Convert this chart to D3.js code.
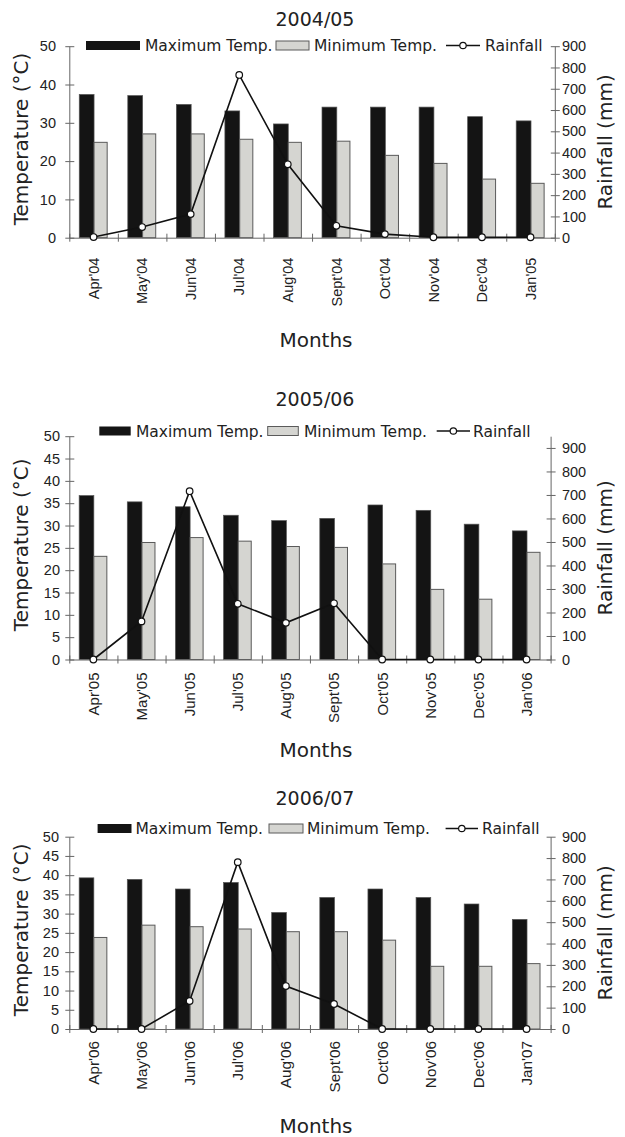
<!DOCTYPE html>
<html>
<head>
<meta charset="utf-8">
<script src="https://cdn.jsdelivr.net/npm/d3@7/dist/d3.min.js"></script>
<style>
  body{margin:0;background:#fff;}
  svg{display:block;font-family:"DejaVu Sans",Verdana,sans-serif;}
  .axis path,.axis line{stroke:#666;stroke-width:1;}
  .axis text{fill:#222;}
</style>
</head>
<body>
<div id="chart"></div>
<script>
// ---- data ----
const months0405=[`Apr'04`,`May'04`,`Jun'04`,`Jul'04`,`Aug'04`,`Sept'04`,`Oct'04`,`Nov'o4`,`Dec'04`,`Jan'05`];
const maxTemp0405=[37.4,37.1,34.8,33.1,29.7,34.1,34.1,34.1,31.6,30.5];
const minTemp0405=[24.9,27.1,27.1,25.7,24.9,25.2,21.5,19.4,15.3,14.2];
const rain0405=[3,50,111,765,345,56,17,2,2,2];

const months0506=[`Apr'05`,`May'05`,`Jun'05`,`Jul'05`,`Aug'05`,`Sept'05`,`Oct'05`,`Nov'o5`,`Dec'05`,`Jan'06`];
const maxTemp0506=[36.7,35.3,34.2,32.3,31.1,31.6,34.6,33.4,30.3,28.8];
const minTemp0506=[23.1,26.2,27.3,26.5,25.3,25.1,21.4,15.7,13.5,24.0];
const rain0506=[0,162,716,237,156,239,0,0,0,0];

const months0607=[`Apr'06`,`May'06`,`Jun'06`,`Jul'06`,`Aug'06`,`Sept'06`,`Oct'06`,`Nov'06`,`Dec'06`,`Jan'07`];
const maxTemp0607=[39.3,38.9,36.4,38.1,30.3,34.2,36.4,34.2,32.5,28.5];
const minTemp0607=[23.8,27.0,26.6,26.0,25.3,25.3,23.1,16.3,16.3,17.0];
const rain0607=[0,0,131,781,201,117,0,0,0,0];

const tempTicks10=[0,10,20,30,40,50];
const tempTicks5=[0,5,10,15,20,25,30,35,40,45,50];
const rainTicks=[0,100,200,300,400,500,600,700,800,900];
const legendNames=[`Maximum Temp.`,`Minimum Temp.`,`Rainfall`];

// ---- layout per panel ----
const panels=[
  {title:`2004/05`,months:months0405,maxT:maxTemp0405,minT:minTemp0405,rain:rain0405,
   tempTicks:tempTicks10,rainMax:900,
   left:69.3,right:554.8,top:46.2,bottom:237.7,
   titleY:26,yLabEnd:56,xLabOff:20,xLabSize:14.5,monthsY:346.7,
   legend:{y:45.5,black:[86,140],gray:[276,309],line:[446,480],text:[145,314,485]}},
  {title:`2005/06`,months:months0506,maxT:maxTemp0506,minT:minTemp0506,rain:rain0506,
   tempTicks:tempTicks5,rainMax:950,
   left:69.3,right:550.6,top:436.2,bottom:659.5,
   titleY:406,yLabEnd:60,xLabOff:13,xLabSize:15,monthsY:756.7,
   legend:{y:431,black:[99.3,130.7],gray:[267.7,298.3],line:[436.7,470],text:[136,304,473]}},
  {title:`2006/07`,months:months0607,maxT:maxTemp0607,minT:minTemp0607,rain:rain0607,
   tempTicks:tempTicks5,rainMax:900,
   left:69.3,right:550.6,top:836.7,bottom:1029,
   titleY:805,yLabEnd:59,xLabOff:12,xLabSize:15.3,monthsY:1133,
   legend:{y:828.5,black:[97.6,131.5],gray:[269,303],line:[445.6,478],text:[135.5,307,482]}}
];

let Chart={
  //draw one of the three panels
  drawPanel(svg,p){
    let g=svg.append(`g`).attr(`class`,`panel`);
    let n=p.months.length;
    let x=d3.scaleBand().domain(p.months).range([p.left,p.right]);
    let xb=d3.scaleLinear().domain([0,n]).range([p.left,p.right]);
    let y=d3.scaleLinear().domain([0,50]).range([p.bottom,p.top]);
    let yr=d3.scaleLinear().domain([0,p.rainMax]).range([p.bottom,p.top]);
    let bw=x.bandwidth();

    let rows=p.months.map((m,i)=>({m:m,max:p.maxT[i],min:p.minT[i],rain:p.rain[i]}));

    //bars
    g.append(`g`).selectAll(`rect`).data(rows).enter().append(`rect`)
      .attr(`x`,d=>x(d.m)+bw*0.205)
      .attr(`width`,bw*0.305)
      .attr(`y`,d=>y(d.max))
      .attr(`height`,d=>y(0)-y(d.max))
      .attr(`fill`,`#141414`).attr(`stroke`,`#555`).attr(`stroke-width`,0.7);
    g.append(`g`).selectAll(`rect`).data(rows).enter().append(`rect`)
      .attr(`x`,d=>x(d.m)+bw*0.51)
      .attr(`width`,bw*0.27)
      .attr(`y`,d=>y(d.min))
      .attr(`height`,d=>y(0)-y(d.min))
      .attr(`fill`,`#d5d5d1`).attr(`stroke`,`#5a5a5a`).attr(`stroke-width`,1);

    //left axis
    let la=g.append(`g`).attr(`class`,`axis`)
      .attr(`transform`,`translate(${p.left},0)`)
      .call(d3.axisLeft(y).tickValues(p.tempTicks).tickSizeOuter(0));
    la.selectAll(`.tick line`).attr(`x1`,5).attr(`x2`,-4);
    la.selectAll(`.tick text`).attr(`x`,p.yLabEnd-p.left).attr(`font-size`,14.5);

    //right axis
    let ra=g.append(`g`).attr(`class`,`axis`)
      .attr(`transform`,`translate(${p.right},0)`)
      .call(d3.axisRight(yr).tickValues(rainTicks).tickSizeOuter(0));
    ra.selectAll(`.tick line`).attr(`x1`,-4).attr(`x2`,5);
    ra.selectAll(`.tick text`).attr(`x`,562-p.right).attr(`font-size`,14.5);

    //bottom axis: boundary ticks
    let ba=g.append(`g`).attr(`class`,`axis`)
      .attr(`transform`,`translate(0,${p.bottom})`)
      .call(d3.axisBottom(xb).tickValues(d3.range(n+1)).tickFormat(``).tickSizeOuter(0));
    ba.selectAll(`.tick line`).attr(`y1`,-4).attr(`y2`,4);

    //bottom axis: month labels
    let ml=g.append(`g`).attr(`class`,`axis`)
      .attr(`transform`,`translate(0,${p.bottom})`)
      .call(d3.axisBottom(x).tickSize(0));
    ml.select(`.domain`).remove();
    ml.selectAll(`.tick text`)
      .attr(`transform`,`rotate(-90)`)
      .attr(`x`,-p.xLabOff).attr(`y`,0).attr(`dy`,`0.36em`)
      .attr(`text-anchor`,`end`).attr(`font-size`,p.xLabSize);

    //rainfall line
    let line=d3.line().x(d=>x(d.m)+bw/2).y(d=>yr(d.rain));
    g.append(`path`).datum(rows)
      .attr(`d`,line).attr(`fill`,`none`).attr(`stroke`,`#111`).attr(`stroke-width`,1.6);
    g.append(`g`).selectAll(`circle`).data(rows).enter().append(`circle`)
      .attr(`cx`,d=>x(d.m)+bw/2).attr(`cy`,d=>yr(d.rain)).attr(`r`,3.3)
      .attr(`fill`,`#fff`).attr(`stroke`,`#111`).attr(`stroke-width`,1.2);

    //titles
    g.append(`text`).attr(`x`,315).attr(`y`,p.titleY)
      .attr(`text-anchor`,`middle`).attr(`font-size`,19).attr(`fill`,`#222`).text(p.title);
    let mid=(p.top+p.bottom)/2;
    g.append(`text`).attr(`transform`,`translate(28,${mid-3}) rotate(-90)`)
      .attr(`text-anchor`,`middle`).attr(`font-size`,20).attr(`fill`,`#222`).text(`Temperature (°C)`);
    g.append(`text`).attr(`transform`,`translate(612,${mid}) rotate(-90)`)
      .attr(`text-anchor`,`middle`).attr(`font-size`,20).attr(`fill`,`#222`).text(`Rainfall (mm)`);
    g.append(`text`).attr(`x`,316).attr(`y`,p.monthsY)
      .attr(`text-anchor`,`middle`).attr(`font-size`,20).attr(`fill`,`#222`).text(`Months`);

    this.drawLegend(g,p.legend);
  },
  //legend row above the plot
  drawLegend(g,L){
    let lg=g.append(`g`).attr(`class`,`legend`);
    lg.append(`rect`).attr(`x`,L.black[0]).attr(`y`,L.y-4.5)
      .attr(`width`,L.black[1]-L.black[0]).attr(`height`,9).attr(`fill`,`#141414`);
    lg.append(`rect`).attr(`x`,L.gray[0]).attr(`y`,L.y-4.5)
      .attr(`width`,L.gray[1]-L.gray[0]).attr(`height`,9)
      .attr(`fill`,`#d5d5d1`).attr(`stroke`,`#5a5a5a`).attr(`stroke-width`,1);
    lg.append(`line`).attr(`x1`,L.line[0]).attr(`x2`,L.line[1]).attr(`y1`,L.y).attr(`y2`,L.y)
      .attr(`stroke`,`#111`).attr(`stroke-width`,1.4);
    lg.append(`circle`).attr(`cx`,(L.line[0]+L.line[1])/2).attr(`cy`,L.y).attr(`r`,3.2)
      .attr(`fill`,`#fff`).attr(`stroke`,`#111`).attr(`stroke-width`,1.2);
    lg.selectAll(`text`).data(legendNames).enter().append(`text`)
      .attr(`x`,(d,i)=>L.text[i]).attr(`y`,L.y+5.5)
      .attr(`font-size`,15.5).attr(`fill`,`#222`).text(d=>d);
  }
};

let svg=d3.select(`#chart`).append(`svg`).attr(`width`,625).attr(`height`,1137);
svg.append(`rect`).attr(`width`,625).attr(`height`,1137).attr(`fill`,`#fff`);
panels.forEach(p=>Chart.drawPanel(svg,p));
</script>
</body>
</html>
